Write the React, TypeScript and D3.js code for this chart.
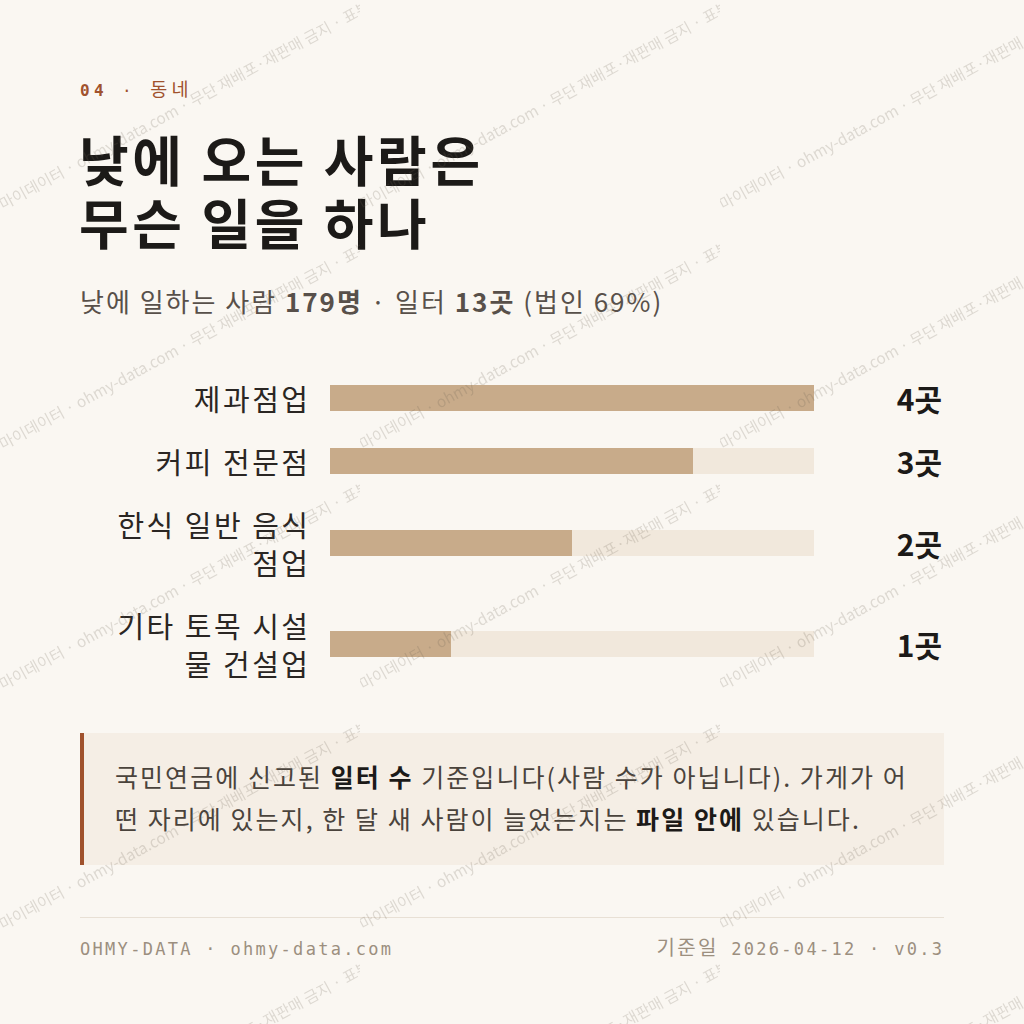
import React, { useMemo } from "react";
import * as d3 from "d3";

const categories = ["제과점업", "커피 전문점", "한식 일반 음식점업", "기타 토목 시설물 건설업"];
const counts = [4, 3, 2, 1];
const unit = "곳";
const eyebrowNum = "04";
const eyebrowText = "동네";
const titleLines = ["낮에 오는 사람은", "무슨 일을 하나"];
const subtitleParts = [
  { t: "낮에 일하는 사람 ", b: false },
  { t: "179명", b: true },
  { t: " · 일터 ", b: false },
  { t: "13곳", b: true },
  { t: " (법인 69%)", b: false },
];
const noteLines = [
  [
    { t: "국민연금에 신고된 ", b: false },
    { t: "일터 수", b: true },
    { t: " 기준입니다(사람 수가 아닙니다). 가게가 어", b: false },
  ],
  [
    { t: "떤 자리에 있는지, 한 달 새 사람이 늘었는지는 ", b: false },
    { t: "파일 안에", b: true },
    { t: " 있습니다.", b: false },
  ],
];
const footerLeft = "OHMY-DATA · ohmy-data.com";
const footerRightLabel = "기준일";
const footerRightValue = " 2026-04-12 · v0.3";
const watermarkText = "마이데이터 · ohmy-data.com · 무단 재배포·재판매 금지 · 표본";

const KR = "'Noto Sans CJK KR', 'Noto Sans', sans-serif";
const MONO = "'DejaVu Sans Mono', 'Noto Sans CJK KR', monospace";

const W = 1024;
const H = 1024;

function wrapChars(text: string, font: string, ls: number, maxW: number): string[] {
  const c = document.createElement("canvas").getContext("2d")!;
  c.font = font;
  const measure = (s: string) => c.measureText(s).width + ls * Array.from(s).length;
  const lines: string[] = [];
  let cur = "";
  for (const ch of Array.from(text)) {
    const next = cur + ch;
    if (measure(next.trimEnd()) > maxW && cur.trim().length > 0) {
      lines.push(cur.trimEnd());
      cur = ch === " " ? "" : ch;
    } else {
      cur = next;
    }
  }
  if (cur) lines.push(cur);
  return lines;
}

export default function App() {
  const labelSize = 29;
  const labelLS = 2.5;
  const labelFont = `400 ${labelSize}px ${KR}`;
  const labelLines = useMemo(
    () => categories.map((c) => wrapChars(c, labelFont, labelLS, 212)),
    []
  );

  const x = d3.scaleLinear().domain([0, d3.max(counts)!]).range([330, 814]);
  const lineH = 38;
  const gap = 25;
  const barH = 26;

  let top = 379;
  const rows = categories.map((c, i) => {
    const n = labelLines[i].length;
    const h = n * lineH;
    const row = { top, h, cy: top + h / 2 };
    top += h + gap;
    return row;
  });

  return (
    <svg
      width={W}
      height={H}
      viewBox={`0 0 ${W} ${H}`}
      style={{ position: "absolute", left: 0, top: 0, display: "block" }}
    >
      <defs>
        <pattern id="wm" width={360} height={240} patternUnits="userSpaceOnUse">
          <text
            transform="translate(184,104) rotate(-28.5)"
            textAnchor="middle"
            dominantBaseline="central"
            fontFamily={KR}
            fontSize={15.5}
            fill="#6b5e50"
            fillOpacity={0.2}
          >
            {watermarkText}
          </text>
        </pattern>
      </defs>
      <rect x={0} y={0} width={W} height={H} fill="#faf7f2" />

      {/* eyebrow */}
      <text x={80} y={96} fontFamily={MONO} fontSize={16} letterSpacing={4.4} fill="#a0522d">
        <tspan fontWeight={700}>{eyebrowNum}</tspan>
        <tspan> · </tspan>
        <tspan fontFamily={KR} fontSize={18.5}>{eyebrowText}</tspan>
      </text>

      {/* title */}
      {titleLines.map((l, i) => (
        <text
          key={i}
          x={79}
          y={182 + i * 63}
          fontFamily={KR}
          fontSize={54}
          fontWeight={700}
          letterSpacing={3.6}
          fill="#1c1a18"
        >
          {l}
        </text>
      ))}

      {/* subtitle */}
      <text x={80} y={312} fontFamily={KR} fontSize={26} letterSpacing={2} fill="#58504a">
        {subtitleParts.map((p, i) => (
          <tspan key={i} fontWeight={p.b ? 700 : 400}>
            {p.t}
          </tspan>
        ))}
      </text>

      {/* bars */}
      {categories.map((c, i) => {
        const r = rows[i];
        const lines = labelLines[i];
        return (
          <g key={c}>
            {lines.map((l, j) => (
              <text
                key={j}
                x={308 + labelLS}
                y={r.top + lineH * j + lineH / 2}
                textAnchor="end"
                dominantBaseline="central"
                fontFamily={KR}
                fontSize={labelSize}
                letterSpacing={labelLS}
                fill="#2a2623"
              >
                {l}
              </text>
            ))}
            <rect
              x={x(0)}
              y={r.cy - barH / 2}
              width={x(d3.max(counts)!) - x(0)}
              height={barH}
              fill="#f1e8dc"
            />
            <rect
              x={x(0)}
              y={r.cy - barH / 2}
              width={x(counts[i]) - x(0)}
              height={barH}
              fill="#c8ab8a"
            />
            <text
              x={942}
              y={r.cy}
              textAnchor="end"
              dominantBaseline="central"
              fontFamily={KR}
              fontSize={30}
              fontWeight={700}
              fill="#1c1a18"
            >
              {counts[i] + unit}
            </text>
          </g>
        );
      })}

      {/* note */}
      <rect x={80} y={733} width={864} height={132} fill="#f5eee5" />
      <rect x={80} y={733} width={4} height={132} fill="#a0522d" />
      {noteLines.map((line, i) => (
        <text
          key={i}
          x={115}
          y={787 + i * 42}
          fontFamily={KR}
          fontSize={25}
          letterSpacing={2.05}
          fill="#4a433c"
        >
          {line.map((p, j) => (
            <tspan key={j} fontWeight={p.b ? 700 : 400} fill={p.b ? "#1c1a18" : "#4a433c"}>
              {p.t}
            </tspan>
          ))}
        </text>
      ))}

      {/* footer */}
      <line x1={80} x2={944} y1={917.5} y2={917.5} stroke="#e8e0d5" strokeWidth={1} />
      <text x={80} y={955} fontFamily={MONO} fontSize={17} letterSpacing={2.3} fill="#9c8f7f">
        {footerLeft}
      </text>
      <text
        x={944.3}
        y={955}
        textAnchor="end"
        fontFamily={MONO}
        fontSize={17}
        letterSpacing={2.3}
        fill="#9c8f7f"
      >
        <tspan fontFamily={KR} fontSize={20}>{footerRightLabel}</tspan>
        <tspan>{footerRightValue}</tspan>
      </text>

      {/* watermark overlay */}
      <rect x={0} y={0} width={W} height={H} fill="url(#wm)" pointerEvents="none" />
    </svg>
  );
}
